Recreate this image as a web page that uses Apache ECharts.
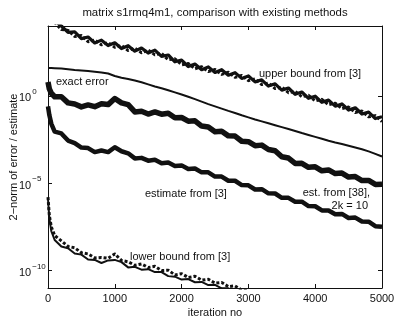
<!DOCTYPE html>
<html>
<head>
<meta charset="utf-8">
<script src="https://cdn.jsdelivr.net/npm/echarts@6/dist/echarts.min.js"></script>
<style>
  html, body { margin: 0; padding: 0; background: #fff; }
  #chart { width: 399px; height: 320px; }
</style>
</head>
<body>
<div id="chart"></div>
<script>
// iteration numbers shared by all curves
const iters = [0, 20, 50, 100, 200, 300, 400, 500, 600, 700,
  800, 900, 1000, 1100, 1200, 1300, 1400, 1500, 1600, 1700,
  1800, 1900, 2000, 2100, 2200, 2300, 2400, 2500, 2600, 2700,
  2800, 2900, 3000, 3100, 3200, 3300, 3400, 3500, 3600, 3700,
  3800, 3900, 4000, 4100, 4200, 4300, 4400, 4500, 4600, 4700,
  4800, 4900, 5000];

// values, as log10
const upperSolidLog = [5.1, 4.9, 4.6, 4.3, 4.00, 3.63, 3.67, 3.28, 3.37, 3.03,
  3.19, 2.88, 3.04, 2.71, 2.87, 2.56, 2.74, 2.45, 2.62, 2.26,
  2.34, 1.95, 2.05, 1.68, 1.82, 1.50, 1.66, 1.34, 1.50, 1.18,
  1.33, 1.00, 1.14, 0.80, 0.92, 0.56, 0.69, 0.33, 0.45, 0.09,
  0.22, -0.14, -0.02, -0.37, -0.24, -0.59, -0.46, -0.81, -0.68, -1.04,
  -0.93, -1.30, -1.20];
const upperDashLog = [5.0, 4.8, 4.5, 4.2, 3.80, 3.75, 3.40, 3.45, 3.10, 3.20,
  2.92, 3.05, 2.78, 2.88, 2.60, 2.73, 2.47, 2.62, 2.35, 2.43,
  2.07, 2.12, 1.78, 1.85, 1.55, 1.67, 1.39, 1.51, 1.23, 1.35,
  1.06, 1.17, 0.87, 0.97, 0.65, 0.73, 0.42, 0.50, 0.18, 0.26,
  -0.05, 0.03, -0.29, -0.20, -0.51, -0.42, -0.73, -0.64, -0.95, -0.87,
  -1.20, -1.13, -1.47];
const exactLog = [1.60, 1.60, 1.59, 1.58, 1.56, 1.52, 1.48, 1.45, 1.42, 1.38,
  1.34, 1.28, 1.14, 1.04, 0.97, 0.88, 0.78, 0.66, 0.54, 0.44,
  0.32, 0.20, 0.08, -0.05, -0.19, -0.33, -0.47, -0.60, -0.73, -0.86,
  -0.98, -1.11, -1.23, -1.35, -1.46, -1.57, -1.68, -1.79, -1.90, -2.01,
  -2.13, -2.24, -2.35, -2.46, -2.57, -2.67, -2.76, -2.86, -2.96, -3.06,
  -3.18, -3.32, -3.47];
const est38Log = [0.80, 0.40, 0.15, -0.05, -0.05, -0.40, -0.47, -0.63, -0.52, -0.62,
  -0.45, -0.50, -0.15, -0.40, -0.50, -0.92, -0.88, -1.04, -0.92, -1.05,
  -0.99, -1.25, -1.24, -1.45, -1.43, -1.73, -1.78, -2.05, -2.03, -2.29,
  -2.30, -2.60, -2.62, -2.85, -2.82, -3.07, -3.14, -3.49, -3.56, -3.87,
  -3.86, -4.09, -4.06, -4.29, -4.24, -4.45, -4.42, -4.65, -4.62, -4.85,
  -4.84, -5.07, -5.06];
const est3Log = [-0.60, -1.10, -1.60, -2.05, -2.15, -2.56, -2.70, -2.96, -2.99, -3.22,
  -3.13, -3.22, -2.94, -3.17, -3.29, -3.58, -3.55, -3.71, -3.66, -3.86,
  -3.81, -4.01, -3.98, -4.19, -4.16, -4.38, -4.38, -4.62, -4.62, -4.86,
  -4.86, -5.11, -5.12, -5.36, -5.34, -5.58, -5.59, -5.84, -5.84, -6.06,
  -6.06, -6.31, -6.32, -6.56, -6.56, -6.78, -6.76, -6.99, -6.97, -7.19,
  -7.20, -7.46, -7.49];
const lowerDashLog = [-5.8, -6.85, -7.5, -8.0, -8.30, -8.62, -8.70, -8.98, -9.05, -9.28,
  -9.25, -9.30, -9.05, -9.42, -9.50, -9.70, -9.62, -9.83, -9.76, -10.00,
  -9.98, -10.25, -10.18, -10.40, -10.33, -10.55, -10.50, -10.72, -10.68, -10.92,
  -10.88, -11.12, -11.1, null, null, null, null, null, null, null,
  null, null, null, null, null, null, null, null, null, null,
  null, null, null];
const lowerSolidLog = [-5.9, -7.0, -7.75, -8.25, -8.62, -8.72, -9.02, -9.09, -9.37, -9.39,
  -9.57, -9.42, -9.39, -9.52, -9.82, -9.79, -9.95, -9.92, -10.09, -10.09,
  -10.32, -10.35, -10.52, -10.49, -10.67, -10.65, -10.83, -10.82, -11.02, -11.02,
  -11.22, -11.22, -11.4, null, null, null, null, null, null, null,
  null, null, null, null, null, null, null, null, null, null,
  null, null, null];

const xTicks = [0, 1000, 2000, 3000, 4000, 5000];
const yTicks = [1e-10, 1e-5, 1];

const FONT = '"Liberation Sans", Arial, Helvetica, sans-serif';
const INK = '#111';

function toPairs(logs) {
  return iters.map((it, i) => [it, logs[i] == null ? null : Math.pow(10, logs[i])]);
}

function line(logs, width, type) {
  return {
    type: 'line',
    data: toPairs(logs),
    showSymbol: false,
    symbol: 'none',
    connectNulls: false,
    clip: true,
    lineStyle: { color: INK, width: width, type: type || 'solid', join: 'round' },
    silent: true
  };
}

const chart = echarts.init(document.getElementById('chart'));

const yFormatter = function (value) {
  const e = Math.round(Math.log10(value));
  return '{b|10}{s|' + (e < 0 ? '\u2212' + (-e) : e) + '}';
};

const option = {
  animation: false,
  backgroundColor: '#fff',
  textStyle: { fontFamily: FONT },
  graphic: [
    { type: 'text', x: 215, y: 13, style: { text: 'matrix s1rmq4m1, comparison with existing methods', fontFamily: FONT, fontSize: 11.4, fill: INK, textAlign: 'center', textVerticalAlign: 'middle' } },
    { type: 'text', x: 56, y: 82, style: { text: 'exact error', fontFamily: FONT, fontSize: 11, fill: INK, textVerticalAlign: 'middle' } },
    { type: 'text', x: 259, y: 74, style: { text: 'upper bound from [3]', fontFamily: FONT, fontSize: 11, fill: INK, textVerticalAlign: 'middle' } },
    { type: 'text', x: 145, y: 194, style: { text: 'estimate from [3]', fontFamily: FONT, fontSize: 11, fill: INK, textVerticalAlign: 'middle' } },
    { type: 'text', x: 370, y: 193, style: { text: 'est. from [38],', fontFamily: FONT, fontSize: 11, fill: INK, textAlign: 'right', textVerticalAlign: 'middle' } },
    { type: 'text', x: 368, y: 206, style: { text: '2k = 10', fontFamily: FONT, fontSize: 11, fill: INK, textAlign: 'right', textVerticalAlign: 'middle' } },
    { type: 'text', x: 130, y: 257, style: { text: 'lower bound from [3]', fontFamily: FONT, fontSize: 11, fill: INK, textVerticalAlign: 'middle' } }
  ],
  grid: { left: 48, right: 17, top: 26, bottom: 32, containLabel: false, outerBoundsMode: 'none' },
  xAxis: [{
    type: 'value', min: 0, max: 5000, interval: 1000,
    name: 'iteration no', nameLocation: 'middle', nameGap: 19, nameMoveOverlap: false,
    nameTextStyle: { fontFamily: FONT, fontSize: 11, color: INK },
    axisLine: { show: true, onZero: false, lineStyle: { color: INK, width: 1 } },
    axisTick: { show: true, inside: true, length: 4, customValues: xTicks, lineStyle: { color: INK } },
    axisLabel: { customValues: xTicks, fontFamily: FONT, fontSize: 11, color: INK, margin: 5, formatter: v => String(v) },
    splitLine: { show: false }
  }, {
    type: 'value', min: 0, max: 5000, interval: 1000, position: 'top',
    axisLine: { show: true, onZero: false, lineStyle: { color: INK, width: 1 } },
    axisTick: { show: true, inside: true, length: 4, customValues: xTicks, lineStyle: { color: INK } },
    axisLabel: { show: false },
    splitLine: { show: false }
  }],
  yAxis: [{
    type: 'log', logBase: 10, min: 1e-11, max: 1e4,
    name: '2\u2212norm of error / estimate', nameLocation: 'middle', nameGap: 29, nameMoveOverlap: false,
    nameTextStyle: { fontFamily: FONT, fontSize: 11, color: INK },
    axisLine: { show: true, onZero: false, lineStyle: { color: INK, width: 1 } },
    axisTick: { show: true, inside: true, length: 4, customValues: yTicks, lineStyle: { color: INK } },
    axisLabel: {
      customValues: yTicks, margin: 29, align: 'left', formatter: yFormatter,
      rich: {
        b: { fontFamily: FONT, fontSize: 11, color: INK, lineHeight: 16, verticalAlign: 'bottom' },
        s: { fontFamily: FONT, fontSize: 8, color: INK, lineHeight: 16, verticalAlign: 'top', padding: [0, 0, 0, 1] }
      }
    },
    splitLine: { show: false },
    minorTick: { show: false }
  }, {
    type: 'log', logBase: 10, min: 1e-11, max: 1e4, position: 'right',
    axisLine: { show: true, onZero: false, lineStyle: { color: INK, width: 1 } },
    axisTick: { show: true, inside: true, length: 4, customValues: yTicks, lineStyle: { color: INK } },
    axisLabel: { show: false },
    splitLine: { show: false }
  }],
  series: [
    line(upperSolidLog, 3.2),
    line(upperDashLog, 3, [3, 2]),
    line(exactLog, 2),
    line(est38Log, 5.5),
    line(est3Log, 4.5),
    line(lowerDashLog, 3, [3, 2]),
    line(lowerSolidLog, 2)
  ]
};

chart.setOption(option);
</script>
</body>
</html>
